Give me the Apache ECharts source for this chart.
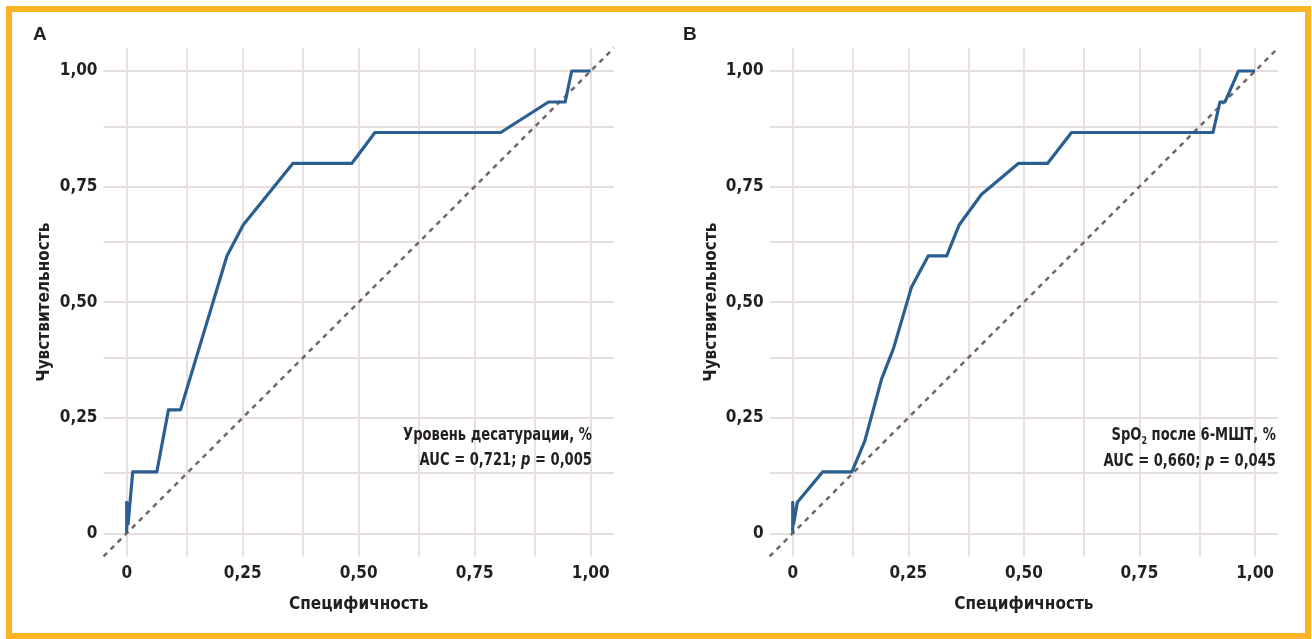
<!DOCTYPE html>
<html>
<head>
<meta charset="utf-8">
<script src="https://cdn.jsdelivr.net/npm/echarts@6/dist/echarts.min.js"></script>
<style>
  html, body { margin: 0; padding: 0; background: #fff; }
  #chart { width: 1312px; height: 639px; }
</style>
</head>
<body>
<div id="chart"></div>
<script>
// panel A: уровень десатурации
const specA = [0, 0, 0.003, 0.013, 0.065, 0.09, 0.116, 0.216, 0.251, 0.358, 0.485, 0.535, 0.806, 0.909, 0.945, 0.959, 1]
const sensA = [0, 0.067, 0.02, 0.133, 0.133, 0.267, 0.267, 0.6, 0.667, 0.8, 0.8, 0.867, 0.867, 0.933, 0.933, 1, 1]
// panel B: SpO2 после 6-МШТ
const specB = [0, 0, 0.002, 0.01, 0.065, 0.128, 0.156, 0.192, 0.218, 0.257, 0.293, 0.333, 0.36, 0.408, 0.488, 0.551, 0.603, 0.909, 0.924, 0.935, 0.964, 1]
const sensB = [0, 0.067, 0.02, 0.067, 0.133, 0.133, 0.2, 0.333, 0.4, 0.533, 0.6, 0.6, 0.667, 0.733, 0.8, 0.8, 0.867, 0.867, 0.933, 0.933, 1, 1]
// reference diagonal
const diagX = [-0.05, 1.05]
const diagY = [-0.05, 1.05]

const tickVals = [0, 0.25, 0.5, 0.75, 1]
const gridVals = [0, 0.125, 0.25, 0.375, 0.5, 0.625, 0.75, 0.875, 1]

const panelLabels = ['A', 'B']
const notesA = ['{b|Уровень десатурации, %}', '{b|AUC = 0,721; }{i|p}{b| = 0,005}']
const notesB = ['{b|SpO}{s|2}{b| после 6-МШТ, %}', '{b|AUC = 0,660; }{i|p}{b| = 0,045}']
const xName = 'Специфичность'
const yName = 'Чувствительность'

const FONT = "'Liberation Sans Narrow', 'Noto Sans Condensed', 'Arial Narrow', 'DejaVu Sans Condensed', sans-serif"
const TXT = '#231f20'
const BLUE = '#2a5f8f'
const GRIDC = '#e6dddd'

const fmt = v => v === 0 ? '0' : v.toFixed(2).replace('.', ',')
const zip = (xs, ys) => xs.map((x, i) => [x, ys[i]])

function xAxisFor(idx) {
  return {
    type: 'value', gridIndex: idx, min: -0.05, max: 1.05,
    axisLine: { show: false }, axisTick: { show: false }, splitLine: { show: false },
    axisLabel: {
      customValues: tickVals, formatter: fmt, margin: 9,
      fontFamily: FONT, fontWeight: 'bold', fontSize: 17, color: TXT
    },
    name: xName, nameLocation: 'middle', nameGap: 40,
    nameTextStyle: { fontFamily: FONT, fontWeight: 'bold', fontSize: 17, color: TXT }
  }
}
function yAxisFor(idx) {
  return {
    type: 'value', gridIndex: idx, min: -0.05, max: 1.05,
    axisLine: { show: false }, axisTick: { show: false }, splitLine: { show: false },
    axisLabel: {
      customValues: tickVals, formatter: fmt, margin: 6,
      fontFamily: FONT, fontWeight: 'bold', fontSize: 17, color: TXT
    },
    name: yName, nameLocation: 'middle', nameGap: 50,
    nameTextStyle: { fontFamily: FONT, fontWeight: 'bold', fontSize: 17, color: TXT }
  }
}
function gridSeries(idx) {
  return {
    type: 'line', xAxisIndex: idx, yAxisIndex: idx, data: [], z: 1, silent: true,
    markLine: {
      z: 1, silent: true, symbol: ['none', 'none'], label: { show: false }, animation: false,
      lineStyle: { color: GRIDC, width: 1.8, type: 'solid' },
      emphasis: { disabled: true },
      data: gridVals.map(v => ({ xAxis: v })).concat(gridVals.map(v => ({ yAxis: v })))
    }
  }
}
function diagSeries(idx) {
  return {
    type: 'line', xAxisIndex: idx, yAxisIndex: idx, data: zip(diagX, diagY), z: 8,
    showSymbol: false, silent: true,
    lineStyle: { color: '#6e6868', width: 2.5, type: [5, 5] }
  }
}
function rocSeries(idx, xs, ys) {
  return {
    type: 'line', xAxisIndex: idx, yAxisIndex: idx, data: zip(xs, ys), z: 10,
    showSymbol: false, silent: true,
    lineStyle: { color: BLUE, width: 3.2, join: 'round' }
  }
}
const rich = {
  b: { fontFamily: FONT, fontWeight: 'bold', fontSize: 18, fill: TXT },
  i: { fontFamily: FONT, fontWeight: 'bold', fontStyle: 'italic', fontSize: 18, fill: TXT },
  s: { fontFamily: FONT, fontWeight: 'bold', fontSize: 11, fill: TXT, padding: [12, 0, 0, 0] }
}
function note(x, y, text) {
  return {
    type: 'text', x: x, y: y, z: 30, scaleX: 0.81,
    style: { text: text, rich: rich, align: 'right', verticalAlign: 'middle' }
  }
}
function letter(x, text) {
  return {
    type: 'text', x: x, y: 25, z: 30,
    style: { text: text, fontFamily: "'Liberation Sans', Arial, sans-serif", fontWeight: 'bold', fontSize: 19, fill: TXT }
  }
}

const chart = echarts.init(document.getElementById('chart'))
chart.setOption({
  animation: false,
  backgroundColor: '#fff',
  grid: [
    { left: 103.5, top: 47.9, width: 510.4, height: 508.5 },
    { left: 769.6, top: 47.9, width: 508.6, height: 508.5 }
  ],
  xAxis: [xAxisFor(0), xAxisFor(1)],
  yAxis: [yAxisFor(0), yAxisFor(1)],
  series: [
    gridSeries(0), diagSeries(0), rocSeries(0, specA, sensA),
    gridSeries(1), diagSeries(1), rocSeries(1, specB, sensB)
  ],
  graphic: [
    {
      type: 'rect', z: 20, silent: true,
      shape: { x: 9, y: 9, width: 1299, height: 627 },
      style: { fill: 'none', stroke: '#fbb423', lineWidth: 6 }
    },
    letter(33, panelLabels[0]),
    letter(683, panelLabels[1]),
    note(592, 435, notesA[0]),
    note(592, 460, notesA[1]),
    note(1276, 435, notesB[0]),
    note(1276, 461, notesB[1])
  ]
})
window.onresize = () => chart.resize()
</script>
</body>
</html>
